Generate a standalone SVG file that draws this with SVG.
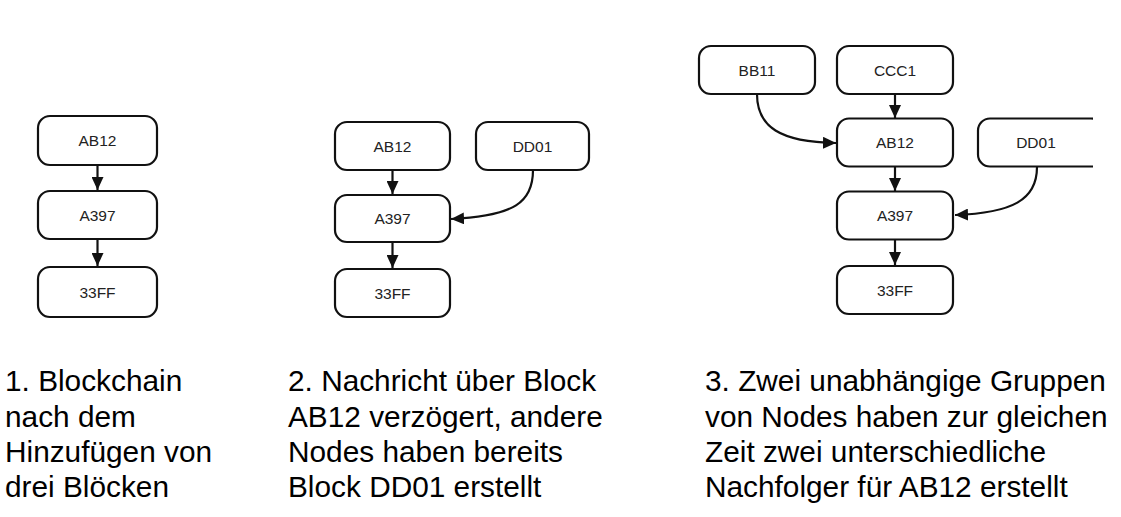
<svg xmlns="http://www.w3.org/2000/svg" width="1121" height="517" viewBox="0 0 1121 517">
<style>
.box{fill:#fff;stroke:#111;stroke-width:2.2}
.lbl{font-family:"Liberation Sans",Arial,sans-serif;font-size:15.5px;fill:#222;text-anchor:middle;dominant-baseline:central}
.edge{fill:none;stroke:#111;stroke-width:2.2}
.cap{font-family:"Liberation Sans",Arial,sans-serif;font-size:29.8px;fill:#000}
</style>
<defs>
<marker id="ah" markerUnits="userSpaceOnUse" markerWidth="14" markerHeight="12" refX="13" refY="6" orient="auto">
<path d="M0,0 L13,6 L0,12 z" fill="#111"/>
</marker>
<clipPath id="clipR"><rect x="0" y="0" width="1093" height="517"/></clipPath>
</defs>
<rect width="1121" height="517" fill="#fff"/>

<g id="connectors">
<line class="edge" x1="97.5" y1="165" x2="97.5" y2="190" marker-end="url(#ah)"/>
<line class="edge" x1="97.5" y1="239" x2="97.5" y2="266" marker-end="url(#ah)"/>
<line class="edge" x1="392.5" y1="170" x2="392.5" y2="194" marker-end="url(#ah)"/>
<line class="edge" x1="392.5" y1="242" x2="392.5" y2="268" marker-end="url(#ah)"/>
<path class="edge" d="M533,170 C533,202 515,216 451,219" marker-end="url(#ah)"/>
<line class="edge" x1="895" y1="94" x2="895" y2="118" marker-end="url(#ah)"/>
<line class="edge" x1="895" y1="167" x2="895" y2="191" marker-end="url(#ah)"/>
<line class="edge" x1="895" y1="239" x2="895" y2="265" marker-end="url(#ah)"/>
<path class="edge" d="M757,94 C757,127 780,142 836,143" marker-end="url(#ah)"/>
<path class="edge" d="M1037,167 C1037,200 1012,213 955,215" marker-end="url(#ah)"/>
</g>

<g id="d1-ab12"><rect class="box" x="38" y="116" width="119" height="49" rx="12"/><text class="lbl" x="97.5" y="140.5">AB12</text></g>
<g id="d1-a397"><rect class="box" x="38" y="191" width="119" height="48" rx="12"/><text class="lbl" x="97.5" y="215">A397</text></g>
<g id="d1-33ff"><rect class="box" x="38" y="267" width="119" height="50" rx="12"/><text class="lbl" x="97.5" y="292">33FF</text></g>

<g id="d2-ab12"><rect class="box" x="335" y="122" width="115" height="48" rx="12"/><text class="lbl" x="392.5" y="146">AB12</text></g>
<g id="d2-dd01"><rect class="box" x="476" y="122" width="113" height="48" rx="12"/><text class="lbl" x="532.5" y="146">DD01</text></g>
<g id="d2-a397"><rect class="box" x="335" y="195" width="115" height="47" rx="12"/><text class="lbl" x="392.5" y="218.5">A397</text></g>
<g id="d2-33ff"><rect class="box" x="335" y="269" width="115" height="48" rx="12"/><text class="lbl" x="392.5" y="293">33FF</text></g>

<g id="d3-bb11"><rect class="box" x="699" y="46" width="116" height="48" rx="12"/><text class="lbl" x="757" y="70">BB11</text></g>
<g id="d3-ccc1"><rect class="box" x="837" y="46" width="116" height="48" rx="12"/><text class="lbl" x="895" y="70">CCC1</text></g>
<g id="d3-ab12"><rect class="box" x="837" y="118.5" width="116" height="48" rx="12"/><text class="lbl" x="895" y="142.5">AB12</text></g>
<g id="d3-dd01" clip-path="url(#clipR)"><rect class="box" x="978" y="118.5" width="125" height="48" rx="12"/><text class="lbl" x="1036" y="142.5">DD01</text></g>
<g id="d3-a397"><rect class="box" x="837" y="191.5" width="116" height="48" rx="12"/><text class="lbl" x="895" y="215.5">A397</text></g>
<g id="d3-33ff"><rect class="box" x="837" y="266" width="116" height="48" rx="12"/><text class="lbl" x="895" y="290">33FF</text></g>

<g id="captions">
<text class="cap" x="5" y="391"><tspan x="5" y="391">1. Blockchain</tspan><tspan x="5" y="426.5">nach dem</tspan><tspan x="5" y="462">Hinzufügen von</tspan><tspan x="5" y="497">drei Blöcken</tspan></text>
<text class="cap" x="288" y="391"><tspan x="288" y="391">2. Nachricht über Block</tspan><tspan x="288" y="426.5">AB12 verzögert, andere</tspan><tspan x="288" y="462">Nodes haben bereits</tspan><tspan x="288" y="497">Block DD01 erstellt</tspan></text>
<text class="cap" x="705" y="391"><tspan x="705" y="391">3. Zwei unabhängige Gruppen</tspan><tspan x="705" y="426.5">von Nodes haben zur gleichen</tspan><tspan x="705" y="462">Zeit zwei unterschiedliche</tspan><tspan x="705" y="497">Nachfolger für AB12 erstellt</tspan></text>
</g>
</svg>
